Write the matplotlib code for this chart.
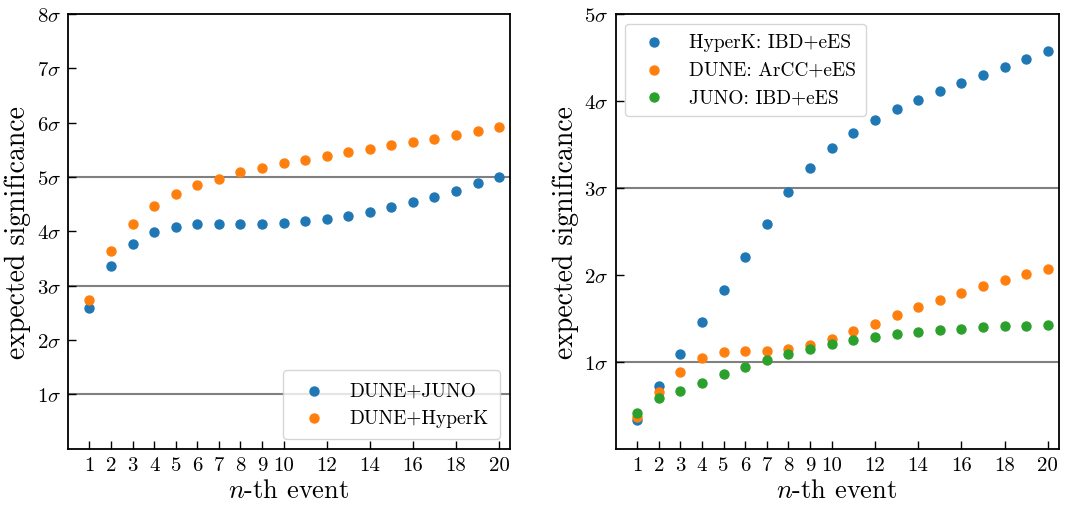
import numpy as np
import matplotlib
matplotlib.use("Agg")
import matplotlib.pyplot as plt

plt.rcParams['font.family'] = 'serif'
plt.rcParams['font.serif'] = ['cmr10']
plt.rcParams['mathtext.fontset'] = 'cm'
plt.rcParams['axes.unicode_minus'] = False

n = np.arange(1, 21)

# left panel
dune_juno = [2.59, 3.37, 3.77, 3.98, 4.08, 4.13, 4.14, 4.14, 4.14, 4.15,
             4.19, 4.23, 4.29, 4.36, 4.44, 4.54, 4.64, 4.75, 4.88, 4.99]
dune_hyperk = [2.73, 3.63, 4.14, 4.47, 4.69, 4.85, 4.97, 5.09, 5.17, 5.25,
               5.31, 5.38, 5.45, 5.51, 5.58, 5.64, 5.70, 5.77, 5.84, 5.92]

# right panel
hyperk = [0.33, 0.72, 1.09, 1.46, 1.83, 2.20, 2.58, 2.95, 3.23, 3.46,
          3.63, 3.78, 3.90, 4.01, 4.11, 4.21, 4.30, 4.39, 4.48, 4.57]
dune = [0.37, 0.655, 0.885, 1.04, 1.115, 1.13, 1.13, 1.15, 1.195, 1.265,
        1.35, 1.44, 1.54, 1.63, 1.71, 1.79, 1.87, 1.94, 2.01, 2.07]
juno = [0.41, 0.58, 0.67, 0.76, 0.86, 0.94, 1.02, 1.09, 1.15, 1.20,
        1.25, 1.29, 1.32, 1.345, 1.365, 1.38, 1.395, 1.41, 1.415, 1.42]

xticks = [1, 2, 3, 4, 5, 6, 7, 8, 9, 10, 12, 14, 16, 18, 20]

fig = plt.figure(figsize=(10.78, 5.1), dpi=100)
ax1 = fig.add_axes([0.063, 0.118, 0.410, 0.853])
ax2 = fig.add_axes([0.571, 0.118, 0.411, 0.853])


def style(ax, ymax, lines):
    for h in lines:
        ax.axhline(h, color='gray', lw=1.5, zorder=0)
    ax.set_xlim(0, 20.5)
    ax.set_ylim(0, ymax)
    ax.set_xticks(xticks)
    ax.set_xticklabels([str(t) for t in xticks])
    yt = np.arange(1, ymax + 1)
    ax.set_yticks(yt)
    ax.set_yticklabels([r'$%d\sigma$' % v for v in yt])
    ax.tick_params(direction='in', length=6, width=1, labelsize=15, pad=5)
    ax.set_xlabel(r'$n$-th event', fontsize=19, labelpad=3)
    ax.set_ylabel('expected significance', fontsize=20, labelpad=4)
    for s in ax.spines.values():
        s.set_linewidth(1.3)


ax1.scatter(n, dune_juno, s=42, color='C0', label='DUNE+JUNO', zorder=3)
ax1.scatter(n, dune_hyperk, s=42, color='C1', label='DUNE+HyperK', zorder=3)
style(ax1, 8, [1, 3, 5])
ax1.legend(loc='lower right', fontsize=14, borderpad=0.6)

ax2.scatter(n, hyperk, s=42, color='C0', label='HyperK: IBD+eES', zorder=3)
ax2.scatter(n, dune, s=42, color='C1', label='DUNE: ArCC+eES', zorder=3)
ax2.scatter(n, juno, s=42, color='C2', label='JUNO: IBD+eES', zorder=3)
style(ax2, 5, [1, 3])
ax2.legend(loc='upper left', fontsize=14, borderpad=0.5)

fig.savefig('out.png', dpi=100)
